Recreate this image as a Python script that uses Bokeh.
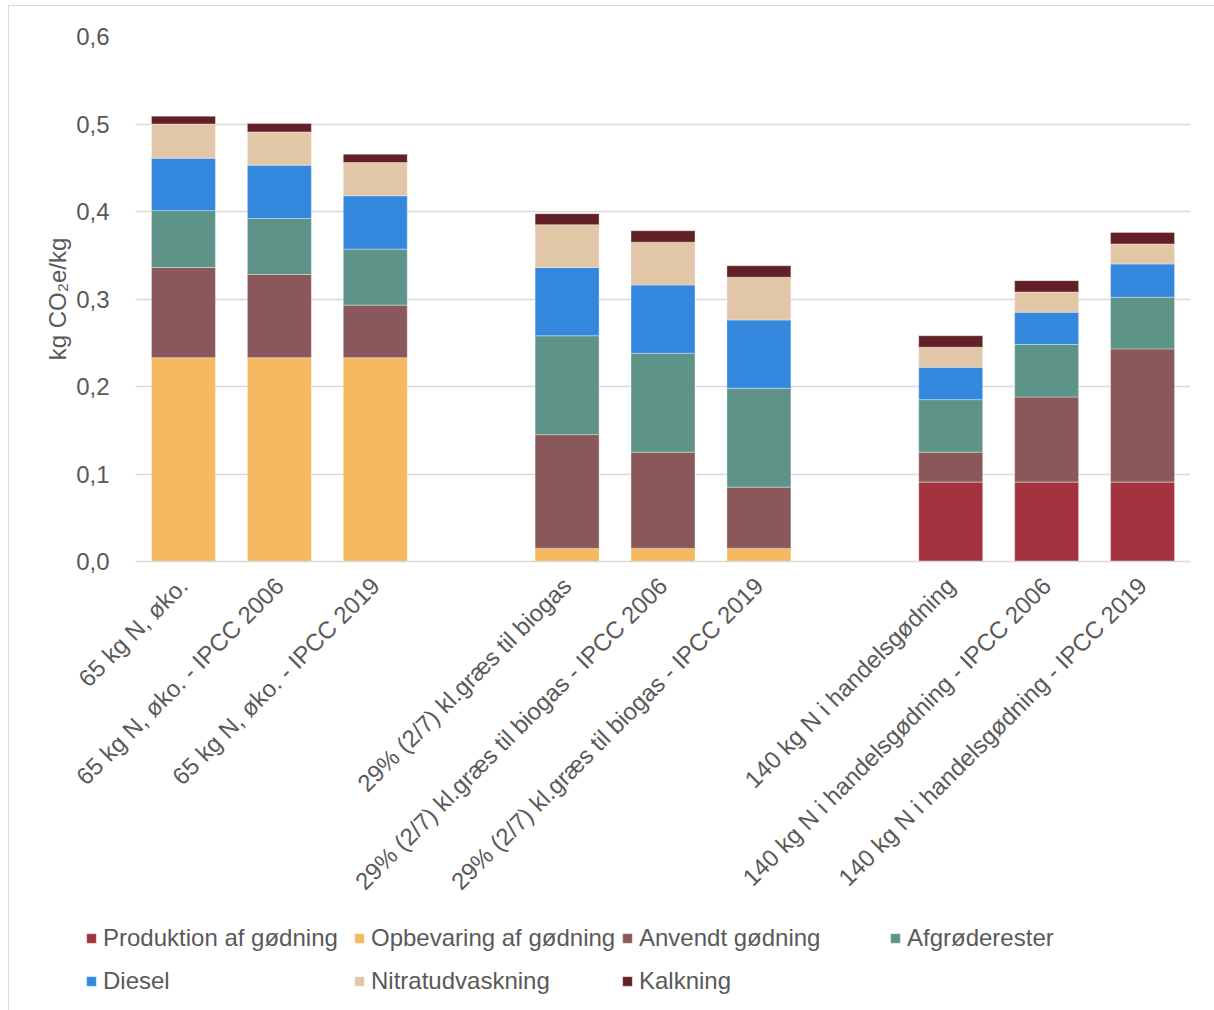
import math
from bokeh.plotting import figure
from bokeh.models import (ColumnDataSource, FactorRange, Range1d, FixedTicker,
                          CustomJSTickFormatter, Legend, LegendItem)
from bokeh.embed import file_html
from bokeh.resources import INLINE

# Scenarios (x-axis categories)
categories = [
    "65 kg N, øko.",
    "65 kg N, øko. - IPCC 2006",
    "65 kg N, øko. - IPCC 2019",
    "29% (2/7) kl.græs til biogas",
    "29% (2/7) kl.græs til biogas - IPCC 2006",
    "29% (2/7) kl.græs til biogas - IPCC 2019",
    "140 kg N i handelsgødning",
    "140 kg N i handelsgødning - IPCC 2006",
    "140 kg N i handelsgødning - IPCC 2019",
]

# Emission sources, kg CO2e per kg
produktion = [0.0, 0.0, 0.0, 0.0, 0.0, 0.0, 0.091, 0.091, 0.091]
opbevaring = [0.233, 0.233, 0.233, 0.015, 0.015, 0.015, 0.0, 0.0, 0.0]
anvendt = [0.103, 0.095, 0.060, 0.130, 0.110, 0.070, 0.034, 0.097, 0.152]
afgroede = [0.065, 0.064, 0.064, 0.113, 0.113, 0.113, 0.060, 0.060, 0.059]
diesel = [0.060, 0.061, 0.061, 0.078, 0.078, 0.078, 0.037, 0.037, 0.038]
nitrat = [0.039, 0.038, 0.038, 0.049, 0.049, 0.049, 0.023, 0.023, 0.023]
kalk = [0.009, 0.0095, 0.0095, 0.0125, 0.013, 0.013, 0.013, 0.013, 0.013]

series_names = ["Produktion af gødning", "Opbevaring af gødning", "Anvendt gødning",
                "Afgrøderester", "Diesel", "Nitratudvaskning", "Kalkning"]
series_keys = ["produktion", "opbevaring", "anvendt", "afgroede", "diesel", "nitrat", "kalk"]
colors = ["#A3343F", "#F6B961", "#8A585A", "#5E9488", "#3388DD", "#E2C6A8", "#621F26"]

y_ticks = [0.0, 0.1, 0.2, 0.3, 0.4, 0.5, 0.6]

source = ColumnDataSource(dict(
    x=categories, produktion=produktion, opbevaring=opbevaring, anvendt=anvendt,
    afgroede=afgroede, diesel=diesel, nitrat=nitrat, kalk=kalk,
))

# empty slots separate the three scenario groups
factors = categories[0:3] + [" "] + categories[3:6] + ["  "] + categories[6:9]

TEXT = "#595959"
GRID = "#d9d9d9"
FONT = "Liberation Sans"
FS = "24px"
BORDER = "1px solid #d9d9d9"

W = 1205
MAIN_H = 905
LEG_H = 99

p = figure(
    x_range=FactorRange(*factors, range_padding=0, factor_padding=0),
    y_range=Range1d(0, 0.6),
    width=W, height=MAIN_H,
    frame_width=1055, frame_height=525,
    min_border_left=126, min_border_top=30, min_border_right=24, min_border_bottom=350,
    output_backend="svg", toolbar_location=None,
    background_fill_color="white", border_fill_color="white",
    outline_line_color=None,
    margin=(5, 0, 0, 8),
    styles={"border-top": BORDER, "border-left": BORDER},
)

bar_style = dict(width=0.667, color=colors, line_color="white", line_alpha=0.35, line_width=1)
p.vbar_stack(series_keys, x="x", source=source, **bar_style)

# axes
p.yaxis.ticker = FixedTicker(ticks=y_ticks)
p.yaxis.formatter = CustomJSTickFormatter(code="return tick.toFixed(1).replace('.', ',');")
p.yaxis.axis_line_color = None
p.yaxis.major_tick_line_color = None
p.yaxis.minor_tick_line_color = None
p.yaxis.major_label_standoff = 20
p.yaxis.major_label_text_font = FONT
p.yaxis.major_label_text_font_size = FS
p.yaxis.major_label_text_color = TEXT
p.yaxis.axis_label = "kg CO₂e/kg"
p.yaxis.axis_label_text_font = FONT
p.yaxis.axis_label_text_font_size = FS
p.yaxis.axis_label_text_font_style = "normal"
p.yaxis.axis_label_text_color = TEXT
p.yaxis.axis_label_standoff = 2

p.xaxis.axis_line_color = GRID
p.xaxis.axis_line_width = 1.5
p.xaxis.major_tick_line_color = None
p.xaxis.minor_tick_line_color = None
p.xaxis.major_label_orientation = math.pi / 4
p.xaxis.major_label_standoff = 14
p.xaxis.major_label_text_font = FONT
p.xaxis.major_label_text_font_size = FS
p.xaxis.major_label_text_color = TEXT

p.xgrid.grid_line_color = None
p.ygrid.grid_line_color = GRID
p.ygrid.grid_line_width = 1.5

# legend strip under the chart: the same stacked series, with the y range set
# above the data so only the legend entries show
lg = figure(
    width=W, height=LEG_H,
    x_range=FactorRange(*factors, range_padding=0, factor_padding=0),
    y_range=Range1d(1, 2),
    x_axis_type=None, y_axis_type=None,
    min_border=0, output_backend="svg", toolbar_location=None,
    background_fill_color="white", border_fill_color="white",
    outline_line_color=None,
    margin=(0, 0, 0, 8),
    styles={"border-left": BORDER},
)
lg.xgrid.visible = False
lg.ygrid.visible = False
swatches = lg.vbar_stack(series_keys, x="x", source=source, **bar_style)
items = [LegendItem(label=n, renderers=[r]) for n, r in zip(series_names, swatches)]
legend = Legend(
    items=items, orientation="horizontal", ncols=4,
    location=(76, 8),
    glyph_width=12, glyph_height=12, label_standoff=6, label_width=250, label_height=43,
    spacing=0, padding=0, margin=0,
    label_text_font=FONT, label_text_font_size=FS, label_text_color=TEXT,
    background_fill_alpha=0, border_line_color=None,
)
lg.add_layout(legend, "center")

open("out.html", "w").write(file_html([p, lg], INLINE))
